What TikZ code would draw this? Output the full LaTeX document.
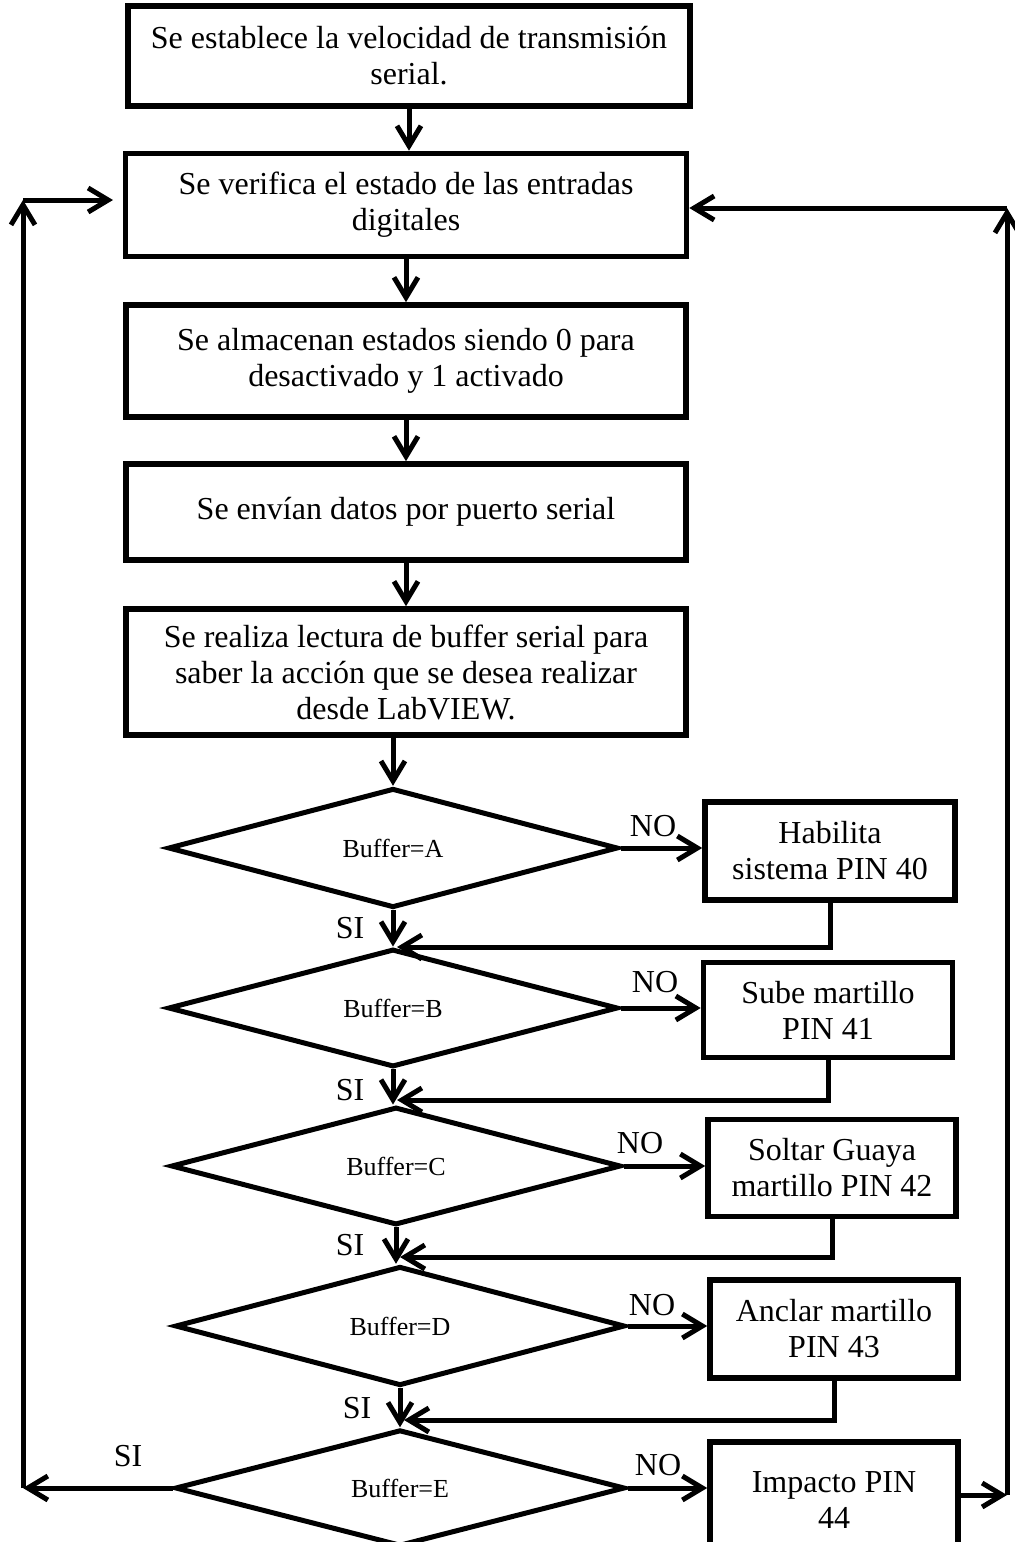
\documentclass[tikz,border=0pt]{standalone}
\usepackage{fontspec}
\setmainfont{Liberation Serif}
\usetikzlibrary{shapes.geometric,arrows.meta}
\tikzset{
  box/.style={draw, line width=2.8pt, align=center, inner sep=0pt,
    font=\fontsize{16}{18}\selectfont},
  dec/.style={draw, shape=diamond, line width=2.5pt, inner sep=0pt,
    minimum width=225pt, minimum height=56pt, font=\fontsize{13}{15}\selectfont},
  arr/.style={line width=2.5pt, -{Straight Barb[length=10pt,width=12pt]}},
  ln/.style={line width=2.5pt},
  lbl/.style={font=\fontsize{16}{18}\selectfont, inner sep=0pt},
}
\begin{document}
\begin{tikzpicture}[x=0.5pt,y=-0.5pt]
\clip (0,0) rectangle (1015,1542);
% main boxes
\node[box, minimum width=281pt, minimum height=50pt] (b1) at (409,56) {Se establece la velocidad de transmisión\\serial.};
\node[box, minimum width=280.5pt, minimum height=51.5pt] (b2) at (406,205) {Se verifica el estado de las entradas\\digitales};
\node[box, minimum width=280pt, minimum height=56pt] (b3) at (406,361) {Se almacenan estados siendo 0 para\\desactivado y 1 activado};
\node[box, minimum width=280pt, minimum height=48pt] (b4) at (406,512) {Se envían datos por puerto serial};
\node[box, minimum width=280pt, minimum height=63pt] (b5) at (406,672) {Se realiza lectura de buffer serial para\\saber la acción que se desea realizar\\desde LabVIEW.};
% decisions
\node[dec] (dA) at (393,848) {Buffer=A};
\node[dec] (dB) at (393,1008) {Buffer=B};
\node[dec] (dC) at (396,1166) {Buffer=C};
\node[dec] (dD) at (400,1326) {Buffer=D};
\node[dec] (dE) at (400,1488) {Buffer=E};
% action boxes
\node[box, minimum width=125pt, minimum height=49pt] (bA) at (830,851) {Habilita\\sistema PIN 40};
\node[box, minimum width=124.5pt, minimum height=47.5pt] (bB) at (828,1010) {Sube martillo\\PIN 41};
\node[box, minimum width=124pt, minimum height=48.5pt] (bC) at (832,1168) {Soltar Guaya\\martillo PIN 42};
\node[box, minimum width=124pt, minimum height=49pt] (bD) at (834,1329) {Anclar martillo\\PIN 43};
\node[box, minimum width=124pt, minimum height=58pt] (bE) at (834,1500) {Impacto PIN\\44};
% main chain
\draw[arr] (b1.south) -- (b1.south |- b2.north);
\draw[arr] (b2.south) -- (b2.south |- b3.north);
\draw[arr] (b3.south) -- (b3.south |- b4.north);
\draw[arr] (b4.south) -- (b4.south |- b5.north);
\draw[arr] (dA.north |- b5.south) -- (dA.north);
% SI arrows
\draw[arr] (dA.south) -- (dB.north);
\draw[arr] (dB.south) -- (dB.south |- dC.north);
\draw[arr] (dC.south) -- (dC.south |- dD.north);
\draw[arr] (dD.south) -- (dD.south |- dE.north);
% NO arrows
\draw[arr] (dA.east) -- (dA.east -| bA.west);
\draw[arr] (dB.east) -- (dB.east -| bB.west);
\draw[arr] (dC.east) -- (dC.east -| bC.west);
\draw[arr] (dD.east) -- (dD.east -| bD.west);
\draw[arr] (dE.east) -- (dE.east -| bE.west);
% returns
\coordinate (jA) at (397,947);
\coordinate (jB) at (397,1100);
\coordinate (jC) at (400,1257);
\coordinate (jD) at (404,1420);
\draw[arr] (bA.south) -- (bA.south |- jA) -- (jA);
\draw[arr] (bB.south) -- (bB.south |- jB) -- (jB);
\draw[arr] (bC.south) -- (bC.south |- jC) -- (jC);
\draw[arr] (bD.south) -- (bD.south |- jD) -- (jD);
% left loop
\coordinate (L1) at (23,1488);
\coordinate (L2) at (23,200);
\coordinate (L3) at (113,200);
\draw[arr] (dE.west) -- (L1);
\draw[arr] (L1) -- (L2);
\draw[arr] (L2) -- (L3);
% right loop
\coordinate (R1) at (1007,1495);
\coordinate (R2) at (1007,208);
\draw[arr] (bE.east |- R1) -- (R1);
\draw[arr] (R1) -- (R2);
\draw[arr] (R2) -- (R2 -| b2.east);
% labels
\node[lbl] (siA) at (350,928) {SI};
\node[lbl] (siB) at (350,1090) {SI};
\node[lbl] (siC) at (350,1245) {SI};
\node[lbl] (siD) at (357,1408) {SI};
\node[lbl] (siE) at (128,1456) {SI};
\node[lbl] (noA) at (653,826) {NO};
\node[lbl] (noB) at (655,982) {NO};
\node[lbl] (noC) at (640,1143) {NO};
\node[lbl] (noD) at (652,1305) {NO};
\node[lbl] (noE) at (658,1465) {NO};
\end{tikzpicture}
\end{document}
